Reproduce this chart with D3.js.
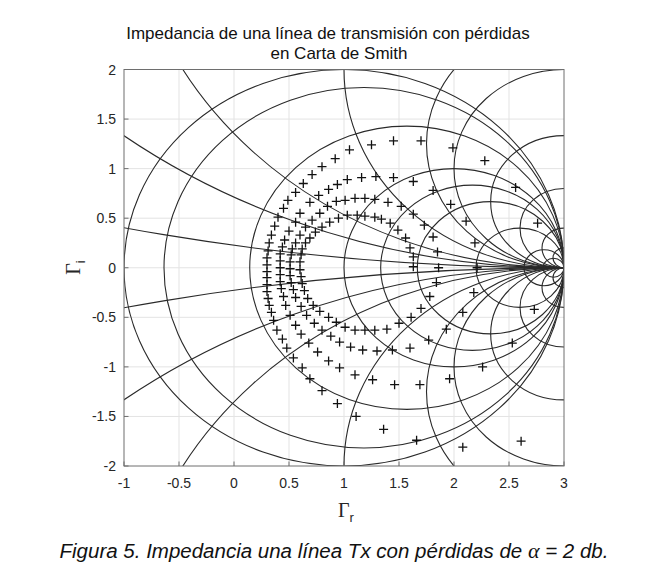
<!DOCTYPE html>
<html><head><meta charset="utf-8">
<script src="https://cdnjs.cloudflare.com/ajax/libs/d3/7.8.5/d3.min.js"></script>
<style>body{margin:0;background:#fff;}svg{display:block;}</style>
</head><body>
<script>
// ---- data ----
const titleLines = ["Impedancia de una línea de transmisión con pérdidas", "en Carta de Smith"];
const xTicks = [-1, -0.5, 0, 0.5, 1, 1.5, 2, 2.5, 3];
const yTicks = [-2, -1.5, -1, -0.5, 0, 0.5, 1, 1.5, 2];
const rVals = [0, 0.1, 0.4, 1, 1.4, 2, 4, 10, 20];
const xVals = [0.1, 0.3, 0.5, 1, 1.6, 2, 3, 5, 10, 20];
const loop0 = [[2.61,-1.75],[2.08,-1.81],[1.66,-1.74],[1.36,-1.63],[1.11,-1.50],[0.94,-1.37],[0.80,-1.24],[0.69,-1.12],[0.62,-1.01],[0.54,-0.91],[0.48,-0.81],[0.44,-0.72],[0.39,-0.63],[0.36,-0.53],[0.34,-0.45],[0.32,-0.38],[0.31,-0.31],[0.30,-0.24],[0.30,-0.17],[0.30,-0.10],[0.30,-0.04]];
const loop1 = [[0.30,0.03],[0.30,0.10],[0.31,0.17],[0.32,0.25],[0.34,0.33],[0.37,0.42],[0.40,0.51],[0.45,0.60],[0.49,0.68],[0.56,0.76],[0.63,0.85],[0.71,0.94],[0.80,1.02],[0.92,1.10],[1.05,1.19],[1.25,1.24],[1.45,1.28],[1.70,1.28],[1.99,1.21],[2.28,1.08],[2.56,0.81],[2.76,0.45]];
const loop2 = [[2.73,-0.42],[2.53,-0.76],[2.26,-1.00],[1.96,-1.12],[1.69,-1.18],[1.46,-1.18],[1.26,-1.13],[1.10,-1.08],[0.96,-1.01],[0.86,-0.94],[0.76,-0.85],[0.68,-0.76],[0.61,-0.67],[0.56,-0.58],[0.51,-0.48],[0.47,-0.38],[0.45,-0.29],[0.43,-0.21],[0.42,-0.14],[0.42,-0.07]];
const loop3 = [[0.42,0.00],[0.42,0.07],[0.42,0.14],[0.44,0.21],[0.46,0.28],[0.50,0.37],[0.56,0.46],[0.60,0.55],[0.69,0.66],[0.77,0.73],[0.86,0.79],[0.94,0.84],[1.03,0.89],[1.16,0.91],[1.29,0.92],[1.45,0.91],[1.63,0.87],[1.81,0.78],[1.97,0.64],[2.11,0.47],[2.19,0.25],[2.21,0.00]];
const loop4 = [[2.18,-0.25],[2.08,-0.45],[1.93,-0.62],[1.77,-0.73],[1.60,-0.81],[1.44,-0.83],[1.30,-0.84],[1.17,-0.83],[1.06,-0.80],[0.96,-0.75],[0.88,-0.69],[0.80,-0.63],[0.73,-0.56],[0.66,-0.48],[0.61,-0.39],[0.56,-0.30],[0.54,-0.22],[0.52,-0.15],[0.51,-0.08]];
const loop5 = [[0.51,-0.01],[0.51,0.06],[0.52,0.13],[0.53,0.19],[0.56,0.25],[0.60,0.33],[0.65,0.41],[0.71,0.48],[0.78,0.55],[0.85,0.62],[0.93,0.67],[1.01,0.68],[1.10,0.70],[1.19,0.70],[1.28,0.69],[1.40,0.66],[1.52,0.62],[1.63,0.54],[1.73,0.43],[1.81,0.31],[1.85,0.16],[1.86,0.00]];
const loop6 = [[1.84,-0.15],[1.78,-0.29],[1.70,-0.41],[1.61,-0.50],[1.50,-0.56],[1.39,-0.62],[1.28,-0.63],[1.19,-0.63],[1.10,-0.63],[1.01,-0.60],[0.93,-0.55],[0.86,-0.50],[0.78,-0.44],[0.72,-0.38],[0.67,-0.31],[0.64,-0.23],[0.62,-0.16],[0.61,-0.09]];
const loop7 = [[0.60,-0.02],[0.60,0.06],[0.61,0.13],[0.62,0.19],[0.65,0.25],[0.69,0.30],[0.74,0.36],[0.80,0.41],[0.87,0.46],[0.95,0.50],[1.03,0.53],[1.12,0.53],[1.19,0.52],[1.28,0.51],[1.34,0.49],[1.42,0.45],[1.49,0.38],[1.56,0.30],[1.60,0.20],[1.63,0.11],[1.63,0.01]];
const captionText = ["Figura 5. Impedancia una línea Tx con pérdidas de ", "α", " = 2 db."];

// ---- layout ----
const W = 662, H = 571;
const L = 124, R = 564, T = 69.5, B = 466;
const x = d3.scaleLinear().domain([-1, 3]).range([L, R]);
const y = d3.scaleLinear().domain([-2, 2]).range([B, T]);
const kx = x(1) - x(0), ky = y(0) - y(1);

const svg = d3.select("body").append("svg").attr("width", W).attr("height", H)
  .style("font-family", "'Liberation Sans', Arial, sans-serif");

svg.append("defs").append("clipPath").attr("id", "clip")
  .append("rect").attr("x", L).attr("y", T).attr("width", R - L).attr("height", B - T);

// grid
const grid = svg.append("g").attr("stroke", "#e3e3e3").attr("stroke-width", 1);
grid.selectAll(".gx").data(xTicks.slice(1, -1)).join("line")
  .attr("x1", d => x(d)).attr("x2", d => x(d)).attr("y1", T).attr("y2", B);
grid.selectAll(".gy").data(yTicks.slice(1, -1)).join("line")
  .attr("y1", d => y(d)).attr("y2", d => y(d)).attr("x1", L).attr("x2", R);

// smith chart circles
const sc = svg.append("g").attr("clip-path", "url(#clip)").attr("fill", "none")
  .attr("stroke", "#2a2a2a").attr("stroke-width", 1.1);
sc.selectAll(".rc").data(rVals).join("ellipse")
  .attr("cx", d => x(1 + 2 * d / (d + 1))).attr("cy", y(0))
  .attr("rx", d => kx * 2 / (d + 1)).attr("ry", d => ky * 2 / (d + 1));
const xs = xVals.flatMap(v => [v, -v]);
sc.selectAll(".xc").data(xs).join("ellipse")
  .attr("cx", x(3)).attr("cy", d => y(2 / d))
  .attr("rx", d => kx * 2 / Math.abs(d)).attr("ry", d => ky * 2 / Math.abs(d));

// points
const pts = [loop0, loop1, loop2, loop3, loop4, loop5, loop6, loop7].flat();
const m = 4.5;
svg.append("g").attr("stroke", "#111").attr("stroke-width", 1.3)
  .selectAll("path").data(pts).join("path")
  .attr("d", d => `M${x(d[0]) - m},${y(d[1])}h${2 * m}M${x(d[0])},${y(d[1]) - m}v${2 * m}`);

// axes box
const ax = svg.append("g").attr("stroke", "#6e6e6e").attr("fill", "none");
ax.append("rect").attr("x", L).attr("y", T).attr("width", R - L).attr("height", B - T).attr("stroke-width", 1);
ax.selectAll(".tx").data(xTicks).join("line")
  .attr("x1", d => x(d)).attr("x2", d => x(d)).attr("y1", B).attr("y2", B - 4.5);
ax.selectAll(".ty").data(yTicks).join("line")
  .attr("y1", d => y(d)).attr("y2", d => y(d)).attr("x1", L).attr("x2", L + 4.5);

// tick labels
svg.append("g").attr("fill", "#262626").attr("font-size", 14).attr("text-anchor", "middle")
  .selectAll("text").data(xTicks).join("text")
  .attr("x", d => x(d)).attr("y", B + 22).text(d => d);
svg.append("g").attr("fill", "#262626").attr("font-size", 14).attr("text-anchor", "end")
  .selectAll("text").data(yTicks).join("text")
  .attr("x", L - 8).attr("y", d => y(d) + 5).text(d => d);

// axis labels
const xl = svg.append("text").attr("x", x(1) - 6).attr("y", 517).attr("fill", "#262626");
xl.append("tspan").attr("font-family", "'Liberation Serif', serif").attr("font-size", 20).text("Γ");
xl.append("tspan").attr("font-size", 13).attr("dy", 5).text("r");
const yl = svg.append("text").attr("transform", `translate(80,${y(0) + 7}) rotate(-90)`).attr("fill", "#262626");
yl.append("tspan").attr("font-family", "'Liberation Serif', serif").attr("font-size", 20).text("Γ");
yl.append("tspan").attr("font-size", 13).attr("dy", 5).text("i");

// title
const titleX = [328, 339];
svg.append("g").attr("fill", "#111").attr("font-size", 17).attr("text-anchor", "middle")
  .selectAll("text").data(titleLines).join("text")
  .attr("x", (d, i) => titleX[i]).attr("y", (d, i) => 39 + i * 20).text(d => d);

// caption
const cap = svg.append("text").attr("x", 334).attr("y", 558).attr("text-anchor", "middle")
  .attr("font-size", 20.5).attr("font-style", "italic").attr("fill", "#111");
cap.append("tspan").text(captionText[0]);
cap.append("tspan").attr("font-family", "'Liberation Serif', serif").attr("font-size", 22).text(captionText[1]);
cap.append("tspan").text(captionText[2]);
</script>
</body></html>
